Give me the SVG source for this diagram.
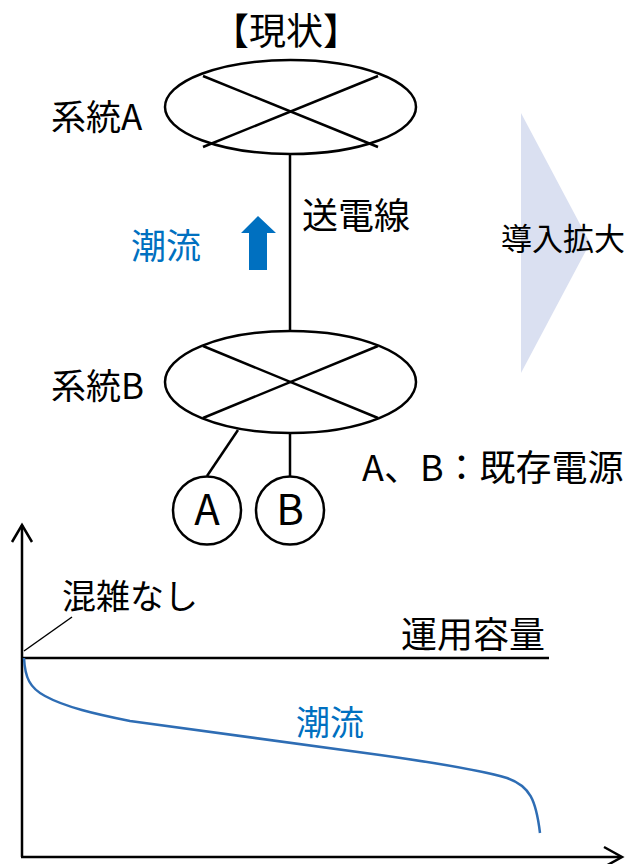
<svg xmlns="http://www.w3.org/2000/svg" width="629" height="864" viewBox="0 0 629 864">
<style>
text{font-family:"Noto Sans CJK JP","Noto Sans",sans-serif;fill:#000}
.blue{fill:#0070C0}
.ln{stroke:#000;stroke-width:2.5;fill:none}
.node{stroke:#000;stroke-width:2.5;fill:#fff}
</style>
<rect width="629" height="864" fill="#fff"/>
<text x="286" y="45" font-size="37" text-anchor="middle">【現状】</text>
<g id="connectors">
<line class="ln" x1="290" y1="154" x2="290" y2="331"/>
<line class="ln" x1="238" y1="430" x2="207" y2="476"/>
<line class="ln" x1="290" y1="433" x2="290" y2="476"/>
</g>
<g id="systemA">
<ellipse class="node" cx="290.5" cy="107" rx="125.5" ry="47"/>
<line class="ln" x1="203" y1="76" x2="378" y2="147"/>
<line class="ln" x1="378" y1="76" x2="203" y2="147"/>
<text x="51" y="130" font-size="35">系統A</text>
</g>
<g id="systemB">
<ellipse class="node" cx="290.5" cy="382" rx="125.5" ry="51"/>
<line class="ln" x1="203" y1="346" x2="378" y2="418"/>
<line class="ln" x1="378" y1="346" x2="203" y2="418"/>
<text x="51" y="399" font-size="35">系統B</text>
</g>
<g id="genA">
<circle class="node" cx="207" cy="510.5" r="34"/>
<text x="207" y="525" font-size="42" text-anchor="middle">A</text>
</g>
<g id="genB">
<circle class="node" cx="290" cy="510.5" r="34"/>
<text x="290" y="525" font-size="42" text-anchor="middle">B</text>
</g>
<g id="line-label">
<text x="302" y="229" font-size="36">送電線</text>
</g>
<g id="flow-arrow">
<polygon class="blue" points="258,216 276,233 267,233 267,270 249,270 249,233 241,233"/>
<text class="blue" x="131" y="259" font-size="35">潮流</text>
</g>
<g id="expansion">
<polygon points="521,113 590,243 521,373" fill="#DAE0F1"/>
<text x="501" y="250" font-size="31">導入拡大</text>
</g>
<g id="legend">
<text x="362" y="481" font-size="36">A、B：既存電源</text>
</g>
<g id="chart">
<polyline class="ln" points="12,542 22,525 32,542"/>
<line class="ln" x1="22" y1="525" x2="22" y2="857"/>
<line class="ln" x1="21" y1="857" x2="621" y2="857"/>
<polyline class="ln" points="604,847 622,857 604,867"/>
<line class="ln" x1="22" y1="658" x2="549" y2="658"/>
<text x="401" y="648" font-size="36">運用容量</text>
<line x1="72" y1="617" x2="24" y2="651" stroke="#000" stroke-width="1.5"/>
<text x="62" y="609" font-size="34">混雑なし</text>
<path d="M24,658 C25,678 30,688 45,696 C65,707 95,714 130,721 L380,755 C430,762 480,770 507,778 C530,786 536,800 540,833" fill="none" stroke="#2E6DB4" stroke-width="2.5"/>
<text class="blue" x="296" y="735" font-size="34">潮流</text>
</g>
</svg>
